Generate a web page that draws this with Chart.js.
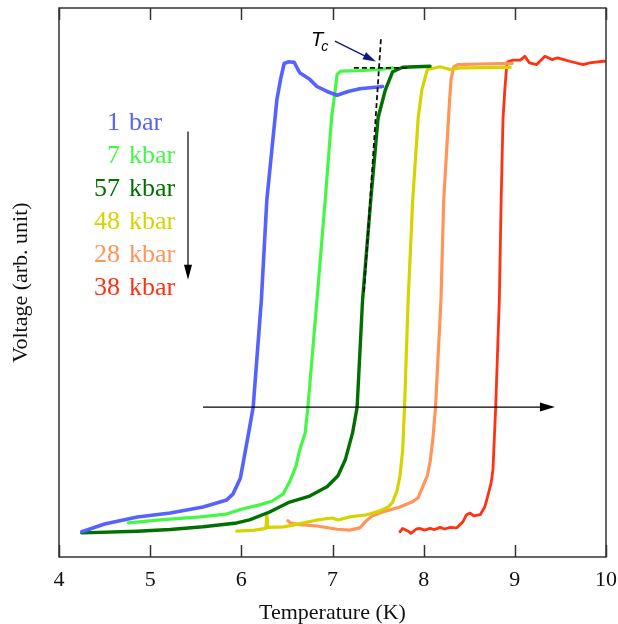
<!DOCTYPE html>
<html>
<head>
<meta charset="utf-8">
<script src="https://cdn.jsdelivr.net/npm/chart.js@4.4.1/dist/chart.umd.min.js"></script>
<style>
  html, body { margin: 0; padding: 0; background: #ffffff; }
  #wrap { width: 618px; height: 624px; }
</style>
</head>
<body>
<div id="wrap"><canvas id="rt-chart" width="618" height="624"></canvas></div>
<script>
// R(T) transitions under pressure: temperature (K) vs voltage (arb. unit)
const pressures = ['1', '7', '57', '48', '28', '38'];
const units     = ['bar', 'kbar', 'kbar', 'kbar', 'kbar', 'kbar'];
const colors    = ['#5562ff', '#44f744', '#007000', '#d6d400', '#ff9558', '#ff3314'];
const widths    = [3.6, 3.2, 3.4, 3.2, 3.2, 2.8];

const xTicks = [4, 5, 6, 7, 8, 9, 10];

const bar1T = [4.25, 4.5, 4.86, 5.22, 5.58, 5.84, 5.91, 5.99, 6.08, 6.13, 6.22, 6.28, 6.39, 6.43, 6.47, 6.52, 6.58, 6.64, 6.75, 6.83, 6.94, 7.05, 7.17, 7.3, 7.55];
const bar1V = [4.6, 6.0, 7.3, 8.0, 9.1, 10.4, 11.5, 14.4, 22.6, 27.3, 46.9, 65.1, 83.3, 87.0, 89.9, 90.2, 90.1, 88.2, 87.0, 85.7, 84.8, 84.1, 84.8, 85.3, 85.7];

const kbar7T = [4.76, 5.11, 5.55, 5.83, 6.0, 6.2, 6.34, 6.46, 6.53, 6.6, 6.64, 6.7, 6.73, 6.83, 6.92, 6.99, 7.03, 7.05, 7.09, 7.3, 7.52, 7.66];
const kbar7V = [6.2, 6.75, 7.3, 7.8, 8.7, 9.5, 10.2, 11.5, 13.7, 16.6, 19.5, 22.6, 27.3, 46.9, 65.1, 80.0, 85.1, 87.9, 88.5, 88.6, 88.8, 89.1];

const kbar57T = [4.25, 4.86, 5.22, 5.58, 5.95, 6.09, 6.31, 6.53, 6.75, 6.94, 7.06, 7.14, 7.22, 7.27, 7.33, 7.42, 7.5, 7.58, 7.66, 7.77, 8.07];
const kbar57V = [4.4, 4.7, 5.0, 5.5, 6.2, 6.75, 8.2, 10.0, 11.1, 12.8, 14.8, 17.7, 22.6, 27.3, 46.9, 65.1, 80.0, 85.1, 88.4, 89.2, 89.4];

const kbar48T = [5.95, 6.15, 6.27, 6.28, 6.29, 6.46, 6.57, 6.83, 7.0, 7.06, 7.19, 7.38, 7.52, 7.61, 7.66, 7.71, 7.74, 7.77, 7.79, 7.83, 7.88, 7.94, 7.98, 8.04, 8.18, 8.29, 8.4, 8.95];
const kbar48V = [4.7, 4.9, 5.2, 7.8, 5.4, 5.5, 5.8, 6.75, 7.1, 6.75, 7.3, 7.7, 8.4, 9.1, 10.0, 12.2, 14.8, 19.5, 27.3, 46.9, 65.1, 80.0, 85.1, 88.8, 89.3, 88.8, 89.1, 89.2];

const kbar28T = [6.51, 6.54, 6.64, 6.83, 7.05, 7.19, 7.3, 7.37, 7.44, 7.55, 7.74, 7.87, 7.94, 7.99, 8.04, 8.07, 8.1, 8.13, 8.19, 8.22, 8.28, 8.3, 8.33, 8.38, 8.62, 8.97];
const kbar28V = [6.6, 6.2, 5.9, 5.65, 5.05, 4.9, 5.3, 6.6, 7.5, 8.2, 9.1, 10.0, 10.8, 12.8, 14.8, 17.3, 21.3, 27.3, 46.9, 65.1, 82.0, 87.0, 89.3, 89.7, 89.8, 89.9];

const kbar38T = [7.74, 7.77, 7.83, 7.86, 7.92, 7.96, 8.01, 8.07, 8.12, 8.18, 8.23, 8.29, 8.36, 8.43, 8.47, 8.51, 8.55, 8.62, 8.67, 8.7, 8.74, 8.76, 8.79, 8.83, 8.85, 8.87, 8.89, 8.91, 8.92, 8.98, 9.06, 9.11, 9.16, 9.24, 9.33, 9.41, 9.46, 9.52, 9.6, 9.75, 9.82, 9.97, 10.0];
const kbar38V = [4.6, 5.2, 4.7, 4.3, 5.1, 5.2, 4.9, 5.2, 5.0, 5.4, 5.1, 5.4, 5.3, 6.4, 7.7, 8.0, 7.5, 7.7, 9.1, 10.9, 13.5, 15.9, 27.3, 46.9, 65.1, 79.7, 85.1, 89.3, 90.2, 90.5, 90.5, 91.2, 90.0, 89.7, 91.2, 90.6, 90.9, 90.7, 90.3, 89.7, 90.0, 90.3, 90.3];

const seriesT = [bar1T, kbar7T, kbar57T, kbar48T, kbar28T, kbar38T];
const seriesV = [bar1V, kbar7V, kbar57V, kbar48V, kbar28V, kbar38V];

// annotation anchors, in data units
const shiftArrow = { x0: 5.58, x1: 9.44, y: 27.3 };
const orderArrow = { x: 5.415, y0: 77.5, y1: 50.5 };
const tcVertical = { x0: 7.531, y0: 94.3, x1: 7.344, y1: 47.8 };
const tcLevel    = { x0: 7.235, x1: 7.85, y: 89.1 };
const tcPointer  = { x0: 7.026, y0: 93.95, x1: 7.476, y1: 90.25 };
const tcLabel    = { x: 6.765, y: 93.05 };
const labelNumX  = 4.669;
const labelUnitX = 4.768;
const labelRowsY = [77.85, 71.8, 65.8, 59.8, 53.7, 47.8];

const serif = '"Liberation Serif", "DejaVu Serif", serif';

function arrowHead(ctx, x0, y0, x1, y1, len, half) {
    const a = Math.atan2(y1 - y0, x1 - x0);
    ctx.beginPath();
    ctx.moveTo(x1, y1);
    ctx.lineTo(x1 - len * Math.cos(a) + half * Math.sin(a), y1 - len * Math.sin(a) - half * Math.cos(a));
    ctx.lineTo(x1 - len * Math.cos(a) - half * Math.sin(a), y1 - len * Math.sin(a) + half * Math.cos(a));
    ctx.closePath();
    ctx.fill();
}

const framePlugin = {
    id: 'frame',
    afterDatasetsDraw(chart) {
        const { ctx, chartArea: a, scales } = chart;
        const xs = scales.x, ys = scales.y;
        ctx.save();

        // box and inward ticks on top and bottom
        ctx.strokeStyle = '#333333';
        ctx.lineWidth = 1.5;
        ctx.strokeRect(a.left, a.top, a.right - a.left, a.bottom - a.top);
        ctx.beginPath();
        xTicks.forEach(t => {
            const px = Math.round(xs.getPixelForValue(t)) + 0.5;
            ctx.moveTo(px, a.bottom); ctx.lineTo(px, a.bottom - 12);
            ctx.moveTo(px, a.top);    ctx.lineTo(px, a.top + 12);
        });
        ctx.stroke();

        // dashed construction for Tc
        ctx.strokeStyle = '#111111';
        ctx.lineWidth = 1.8;
        ctx.setLineDash([5, 3]);
        ctx.beginPath();
        ctx.moveTo(xs.getPixelForValue(tcVertical.x0), ys.getPixelForValue(tcVertical.y0));
        ctx.lineTo(xs.getPixelForValue(tcVertical.x1), ys.getPixelForValue(tcVertical.y1));
        ctx.moveTo(xs.getPixelForValue(tcLevel.x0), ys.getPixelForValue(tcLevel.y));
        ctx.lineTo(xs.getPixelForValue(tcLevel.x1), ys.getPixelForValue(tcLevel.y));
        ctx.stroke();
        ctx.setLineDash([]);

        // horizontal shift arrow
        ctx.strokeStyle = '#000000';
        ctx.fillStyle = '#000000';
        ctx.lineWidth = 1.2;
        let x0 = xs.getPixelForValue(shiftArrow.x0), x1 = xs.getPixelForValue(shiftArrow.x1);
        let y = ys.getPixelForValue(shiftArrow.y);
        ctx.beginPath(); ctx.moveTo(x0, y); ctx.lineTo(x1 - 10, y); ctx.stroke();
        arrowHead(ctx, x0, y, x1, y, 15, 4.5);

        // vertical order arrow next to the labels
        const vx = xs.getPixelForValue(orderArrow.x);
        const vy0 = ys.getPixelForValue(orderArrow.y0), vy1 = ys.getPixelForValue(orderArrow.y1);
        ctx.beginPath(); ctx.moveTo(vx, vy0); ctx.lineTo(vx, vy1 - 10); ctx.stroke();
        arrowHead(ctx, vx, vy0, vx, vy1, 15, 4);

        // Tc pointer
        ctx.strokeStyle = '#101a80';
        ctx.fillStyle = '#101a80';
        ctx.lineWidth = 1.4;
        const px0 = xs.getPixelForValue(tcPointer.x0), py0 = ys.getPixelForValue(tcPointer.y0);
        const px1 = xs.getPixelForValue(tcPointer.x1), py1 = ys.getPixelForValue(tcPointer.y1);
        ctx.beginPath(); ctx.moveTo(px0, py0); ctx.lineTo(px1 - (px1 - px0) * 0.2, py1 - (py1 - py0) * 0.2); ctx.stroke();
        arrowHead(ctx, px0, py0, px1, py1, 13, 4);

        // Tc label
        ctx.fillStyle = '#000000';
        ctx.textBaseline = 'alphabetic';
        ctx.textAlign = 'left';
        const lx = xs.getPixelForValue(tcLabel.x), ly = ys.getPixelForValue(tcLabel.y);
        ctx.font = 'italic 20px "Liberation Sans", Arial, sans-serif';
        ctx.fillText('T', lx, ly);
        const tw = ctx.measureText('T').width;
        ctx.font = 'italic 14px "Liberation Sans", Arial, sans-serif';
        ctx.fillText('c', lx + tw - 2, ly + 5);

        // pressure labels
        ctx.font = '26px ' + serif;
        pressures.forEach((p, i) => {
            const by = ys.getPixelForValue(labelRowsY[i]);
            ctx.fillStyle = colors[i];
            ctx.textAlign = 'right';
            ctx.fillText(p, xs.getPixelForValue(labelNumX), by);
            ctx.textAlign = 'left';
            ctx.fillText(units[i], xs.getPixelForValue(labelUnitX), by);
        });
        ctx.restore();
    }
};

const datasets = seriesT.map((ts, i) => ({
    label: pressures[i] + ' ' + units[i],
    data: ts.map((t, j) => ({ x: t, y: seriesV[i][j] })),
    borderColor: colors[i],
    backgroundColor: colors[i],
    borderWidth: widths[i],
    pointRadius: 0,
    showLine: true,
    tension: 0,
    borderJoinStyle: 'round',
    borderCapStyle: 'round'
}));

new Chart(document.getElementById('rt-chart'), {
    type: 'scatter',
    data: { datasets },
    options: {
        responsive: false,
        animation: false,
        devicePixelRatio: 1,
        layout: { padding: { top: 8, right: 12, bottom: 0, left: 0 } },
        plugins: { legend: { display: false }, tooltip: { enabled: false } },
        scales: {
            x: {
                type: 'linear',
                min: 4, max: 10,
                afterBuildTicks: s => { s.ticks = xTicks.map(v => ({ value: v })); },
                afterFit: s => { s.height = 67; s.paddingLeft = 0; s.paddingRight = 0; },
                grid: { display: false, drawTicks: false },
                border: { display: false },
                ticks: { color: '#111111', padding: 10, maxRotation: 0, font: { family: serif, size: 22 } },
                title: { display: true, text: 'Temperature (K)', color: '#111111', padding: { top: 0, bottom: -2 }, font: { family: serif, size: 22 } }
            },
            y: {
                type: 'linear',
                min: 0, max: 100,
                afterFit: s => { s.width = 59; s.paddingTop = 0; s.paddingBottom = 0; },
                grid: { display: false, drawTicks: false },
                border: { display: false },
                ticks: { display: false },
                title: { display: true, text: 'Voltage (arb. unit)', color: '#111111', padding: { top: 8, bottom: 0 }, font: { family: serif, size: 22 } }
            }
        }
    },
    plugins: [framePlugin]
});
</script>
</body>
</html>
